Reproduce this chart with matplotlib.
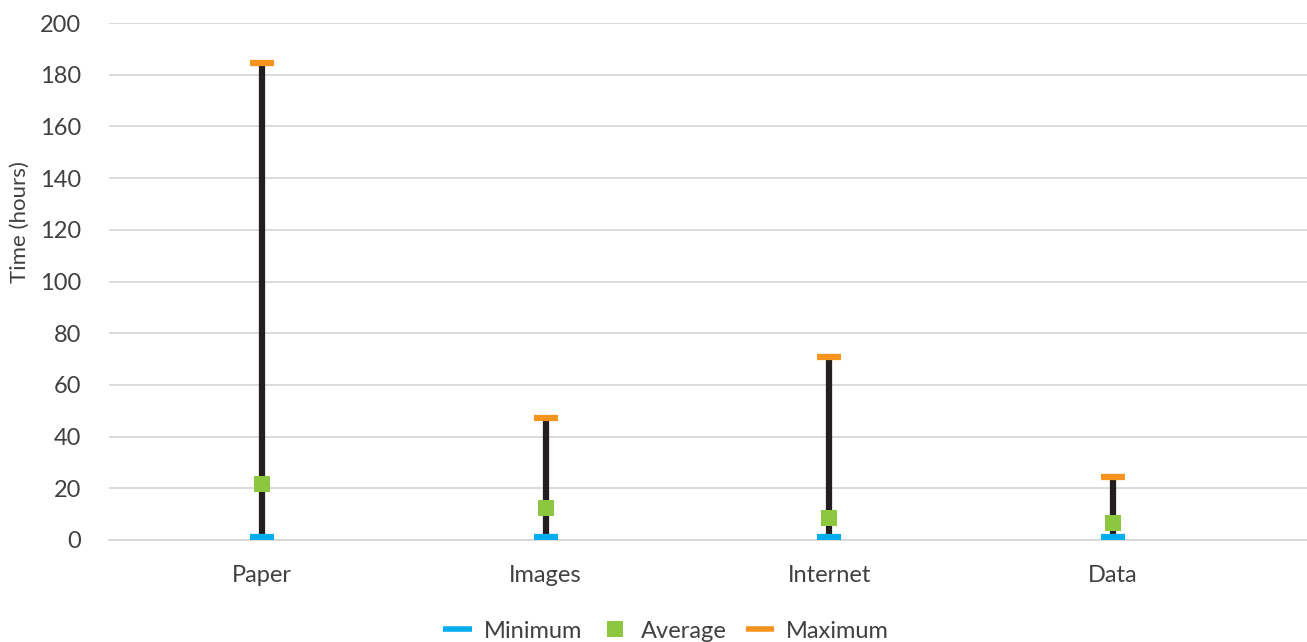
import matplotlib
matplotlib.use("Agg")
from matplotlib import pyplot as plt
from matplotlib.lines import Line2D

categories = ["Paper", "Images", "Internet", "Data"]
minimum = [1, 1, 1, 1]
average = [21.5, 12.3, 8.5, 6.5]
maximum = [184.5, 47.2, 70.8, 24.4]
line_low = [0.5, 0.5, 0, 0.5]

plt.rcParams["font.family"] = ["Lato", "DejaVu Sans"]
text_color = "#404040"

fig = plt.figure(figsize=(13.07, 6.42), dpi=100)
ax = fig.add_axes([109 / 1307, 102 / 642, 1 - 109 / 1307, 517 / 642])

x = list(range(len(categories)))

# high-low line, then the dash markers and the average squares
ax.vlines(x, line_low, maximum, color="#231f20", linewidth=4.5, zorder=2)
for xi, lo, hi in zip(x, minimum, maximum):
    ax.plot([xi - 0.042, xi + 0.042], [lo, lo], color="#00aeef", linewidth=4.5,
            solid_capstyle="butt", zorder=3)
    ax.plot([xi - 0.042, xi + 0.042], [hi, hi], color="#f7941d", linewidth=4.5,
            solid_capstyle="butt", zorder=3)
ax.plot(x, average, linestyle="none", marker="s", markersize=11,
        color="#8dc63f", markeredgewidth=0, zorder=4)

ax.set_ylim(0, 200)
ax.set_yticks(range(0, 201, 20))
ax.set_xlim(-0.539, 3.684)
ax.set_xticks(x)
ax.set_xticklabels(categories)

ax.grid(axis="y", color="#d4d4d4", linewidth=1.2)
ax.set_axisbelow(True)
for side in ["top", "right", "left"]:
    ax.spines[side].set_visible(False)
ax.spines["bottom"].set_color("#d4d4d4")
ax.spines["bottom"].set_linewidth(1.2)
ax.tick_params(axis="both", length=0, labelsize=17, colors=text_color)
ax.tick_params(axis="y", pad=20)
ax.tick_params(axis="x", pad=18)
fig.text(20 / 1307, 1 - 222 / 642, "Time (hours)", rotation=90, fontsize=16,
         color=text_color, ha="center", va="center")

handles = [
    Line2D([], [], color="#00aeef", linewidth=4, solid_capstyle="butt"),
    Line2D([], [], linestyle="none", marker="s", markersize=11,
           color="#8dc63f", markeredgewidth=0),
    Line2D([], [], color="#f7941d", linewidth=4, solid_capstyle="butt"),
]
fig.legend(handles, ["Minimum", "Average", "Maximum"], loc="center",
           bbox_to_anchor=(666 / 1307, 1 - 631 / 642), ncol=3, frameon=False,
           fontsize=17, labelcolor=text_color, handlelength=1.2,
           handletextpad=0.5, columnspacing=0.8)

fig.savefig("out.png", dpi=100)
